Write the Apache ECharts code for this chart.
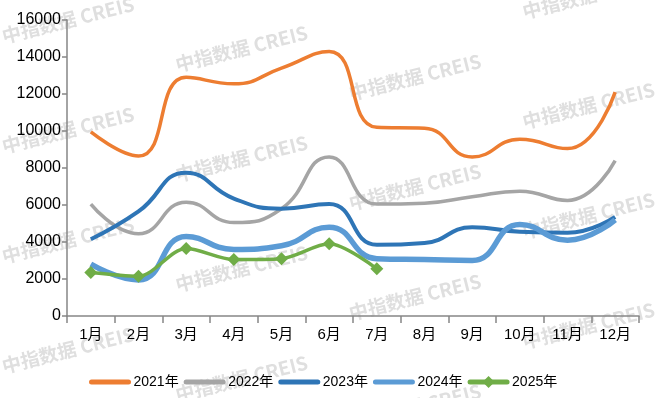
<!DOCTYPE html>
<html>
<head>
<meta charset="utf-8">
<script src="https://cdn.jsdelivr.net/npm/echarts@6/dist/echarts.min.js"></script>
<style>
  html, body { margin: 0; padding: 0; background: #fff; }
  #chart { width: 658px; height: 398px; }
</style>
</head>
<body>
<div id="chart"></div>
<script>
// 月份
const months = ['1月', '2月', '3月', '4月', '5月', '6月', '7月', '8月', '9月', '10月', '11月', '12月'];
const seriesNames = ['2021年', '2022年', '2023年', '2024年', '2025年'];
// 各年数据
const data2021 = [9950, 8650, 12900, 12550, 13400, 14300, 10200, 10150, 8600, 9550, 9050, 12100];
const data2022 = [6050, 4450, 6150, 5050, 5800, 8600, 6050, 6100, 6450, 6750, 6250, 8400];
const data2023 = [4150, 5650, 7750, 6350, 5800, 6050, 3850, 3950, 4800, 4550, 4500, 5350];
const data2024 = [2800, 1950, 4300, 3600, 3800, 4800, 3100, 3050, 3000, 4950, 4100, 5200];
const data2025 = [2350, 2150, 3650, 3050, 3100, 3900, 2550];
const yTicks = [0, 2000, 4000, 6000, 8000, 10000, 12000, 14000, 16000];

const colors = ['#ED7D31', '#A5A5A5', '#2E75B6', '#5B9BD5', '#70AD47'];
const lineWidths = [3.5, 3.5, 4, 5.5, 3.5];
const allData = [data2021, data2022, data2023, data2024, data2025];

const fontFamily = "'Liberation Sans', 'Noto Sans CJK SC', sans-serif";

let chart = echarts.init(document.getElementById('chart'), null, { renderer: 'canvas' });

// 水印
let watermarks = [];
for (let c = 0; c < 4; c++) {
  for (let r = -1; r < 4; r++) {
    watermarks.push({
      type: 'text',
      x: 68 + c * 173.5,
      y: 20 + c * 28.5 + r * 110,
      rotation: 14 * Math.PI / 180,
      z: -1,
      silent: true,
      style: {
        text: '中指数据 CREIS',
        fill: '#dfdfdf',
        font: "bold 19px 'Noto Sans CJK SC', sans-serif",
        align: 'center',
        verticalAlign: 'middle'
      }
    });
  }
}

let series = seriesNames.map((name, i) => {
  let s = {
    name: name,
    type: 'line',
    smooth: 0.5,
    data: allData[i],
    color: colors[i],
    lineStyle: { width: lineWidths[i], color: colors[i] },
    symbol: 'none',
    z: 2 + i
  };
  if (i === 4) {
    s.symbol = 'diamond';
    s.symbolSize = 13;
    s.smooth = 0.3;
    s.itemStyle = { color: colors[i] };
  }
  return s;
});

// 图例：前四项只要线，不要圆点
let legendData = seriesNames.map((name, i) => {
  let item = { name: name, lineStyle: { width: 5, cap: 'round' } };
  if (i < 4) item.itemStyle = { opacity: 0 };
  return item;
});

let option = {
  animation: false,
  graphic: watermarks,
  legend: {
    data: legendData,
    left: 84,
    top: 370,
    itemWidth: 37,
    itemHeight: 15,
    itemGap: 5,
    textStyle: { color: '#000', fontSize: 14, fontFamily: fontFamily }
  },
  grid: {
    left: 67,
    right: 19,
    top: 20,
    bottom: 82,
    containLabel: false
  },
  xAxis: {
    type: 'category',
    data: months,
    boundaryGap: true,
    axisLine: { show: true, lineStyle: { color: '#868686', width: 1.5 } },
    axisTick: { show: true, length: 7, lineStyle: { color: '#868686', width: 1.5 } },
    axisLabel: { color: '#000', fontSize: 15, margin: 11, fontFamily: fontFamily, interval: 0 }
  },
  yAxis: {
    type: 'value',
    min: yTicks[0],
    max: yTicks[yTicks.length - 1],
    interval: yTicks[1] - yTicks[0],
    axisLine: { show: true, lineStyle: { color: '#868686', width: 1.5 } },
    axisTick: { show: true, length: 5, lineStyle: { color: '#868686', width: 1.5 } },
    splitLine: { show: false },
    axisLabel: {
      color: '#000', fontSize: 16, margin: 6, fontFamily: fontFamily,
      formatter: function (v) { return String(v); }
    }
  },
  series: series
};

chart.setOption(option);
</script>
</body>
</html>
